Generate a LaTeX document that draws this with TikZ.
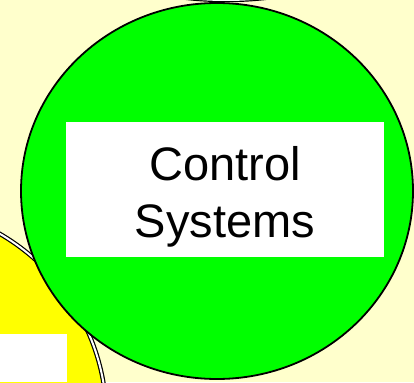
\documentclass[tikz,border=0pt]{standalone}
\usepackage{fontspec}
\setmainfont{Liberation Sans}
\definecolor{bgyellow}{HTML}{FFFFCC}
\definecolor{brightgreen}{HTML}{00FF00}
\definecolor{brightyellow}{HTML}{FFFF00}
\tikzset{
  doubleedge/.style={draw=black, line width=1.2pt, double=white, double distance=2pt},
  singleedge/.style={draw=black, line width=1.8pt},
  whitebox/.style={fill=white, draw=none, inner sep=0pt, outer sep=0pt},
}
\begin{document}
\begin{tikzpicture}[x=1pt,y=-1pt]
\useasboundingbox (0,0) rectangle (414,382);
\fill[bgyellow] (0,0) rectangle (414,382);
\begin{scope}
\clip (0,0) rectangle (414,382);
% circle above (only its bottom edge shows)
\path[doubleedge, fill=white] (226,-360) circle [radius=360pt];
% yellow circle bottom-left
\path[doubleedge, fill=brightyellow] (-107.5,419) circle [radius=214pt];
% green circle
\path[singleedge, fill=brightgreen] (217,191) ellipse [x radius=196pt, y radius=188pt];
\end{scope}
\node[whitebox, minimum width=318pt, minimum height=135pt] (box) at (225,189.5) {};
\node[inner sep=0pt, align=center, font=\fontsize{47}{57}\selectfont] (label) at (225,196.5) {Control\\Systems};
\node[whitebox, minimum width=67pt, minimum height=48pt, anchor=north west] (corner) at (0,334) {};
\end{tikzpicture}
\end{document}
